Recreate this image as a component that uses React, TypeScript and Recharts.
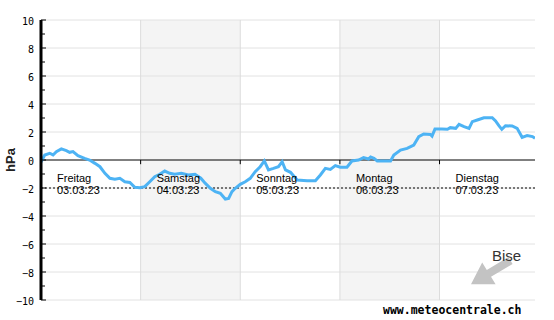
import React from "react";
import {
  LineChart,
  Line,
  XAxis,
  YAxis,
  ReferenceLine,
  ReferenceArea,
  ReferenceDot,
} from "recharts";

// hours since Friday 00:00
const HOURS = [
  0, 0.9, 2.1, 2.9, 3.7, 4.9, 6.1, 6.9, 7.7, 8.9, 10.5, 11.7, 13.0, 14.2, 15.4,
  16.6, 17.8, 19.0, 20.2, 21.4, 22.6, 23.8, 25.0, 26.2, 27.4, 28.6, 29.8, 31.0,
  32.2, 33.8, 35.5, 37.1, 38.5, 39.6, 40.8, 42.0, 43.2, 44.4, 45.2, 46.0, 46.8,
  48.0, 49.2, 50.4, 51.6, 52.8, 53.8, 54.8, 56.0, 57.2, 58.1, 58.9, 60.1, 61.7,
  64.1, 66.1, 67.3, 68.5, 69.7, 70.9, 72.1, 73.7, 74.9, 76.5, 77.7, 78.9, 79.4,
  80.2, 81.0, 82.6, 84.2, 85.0, 86.6, 88.2, 89.8, 91.0, 92.2, 93.8, 94.2, 94.9,
  96.6, 97.9, 98.6, 99.9, 100.7, 101.9, 103.1, 103.9, 105.1, 106.7, 108.7,
  109.5, 110.3, 111.0, 111.9, 113.5, 114.7, 115.9, 117.1, 118.4, 119.0,
];
// pressure difference in hPa
const PRESSURE = [
  -0.15, 0.36, 0.48, 0.36, 0.6, 0.79, 0.67, 0.55, 0.6, 0.31, 0.12, 0.0, -0.24,
  -0.48, -0.95, -1.31, -1.38, -1.31, -1.55, -1.6, -1.95, -1.98, -1.9, -1.55,
  -1.19, -1.02, -0.79, -0.95, -1.02, -0.95, -1.07, -1.02, -1.3, -1.67, -2.02,
  -2.26, -2.38, -2.79, -2.74, -2.26, -2.02, -1.74, -1.55, -1.31, -0.83, -0.48,
  -0.07, -0.71, -0.6, -0.48, -0.12, -0.71, -0.88, -1.43, -1.48, -1.48, -1.07,
  -0.6, -0.67, -0.4, -0.52, -0.52, -0.07, 0.0, 0.17, 0.07, 0.22, 0.12, -0.07,
  -0.07, -0.07, 0.36, 0.71, 0.83, 1.07, 1.67, 1.86, 1.83, 1.71, 2.21, 2.21,
  2.19, 2.31, 2.26, 2.55, 2.38, 2.26, 2.74, 2.86, 3.02, 3.02, 2.79, 2.45, 2.19,
  2.45, 2.43, 2.26, 1.62, 1.74, 1.67, 1.55,
];

const DAY_STARTS = [0, 24, 48, 72, 96];
const DAY_NAMES = ["Freitag", "Samstag", "Sonntag", "Montag", "Dienstag"];
const DAY_DATES = ["03.03.23", "04.03.23", "05.03.23", "06.03.23", "07.03.23"];
const SHADED_DAYS = [1, 3];
const DAY_BOUNDARIES = [24, 48, 72, 96];

const Y_TICKS = [-10, -9, -8, -7, -6, -5, -4, -3, -2, -1, 0, 1, 2, 3, 4, 5, 6, 7, 8, 9, 10];
const GRID_VALUES = [-10, -8, -6, -4, -2, 2, 4, 6, 8, 10];
const REFERENCE_LEVEL = -2;
const X_DOMAIN: [number, number] = [0, 119];
const Y_DOMAIN: [number, number] = [-10, 10];

const data = HOURS.map((h, i) => ({ h, p: PRESSURE[i] }));

const TICK_SIZE = 6;
const TICK_MARGIN = 2;

const YTick = (props: any) => {
  const { x, y, payload } = props;
  const v = payload.value as number;
  const axisX = x + TICK_SIZE + TICK_MARGIN;
  const major = v % 2 === 0;
  return (
    <g>
      <line
        x1={axisX}
        x2={axisX + (major ? 5 : 4)}
        y1={y}
        y2={y}
        stroke="#000"
        strokeWidth={1}
      />
      {major && (
        <text
          x={x + 1}
          y={y + 4.5}
          textAnchor="end"
          fontFamily="'DejaVu Sans Mono', monospace"
          fontSize={10}
          fill="#000"
        >
          {String(v).replace("-", "\u2212")}
        </text>
      )}
    </g>
  );
};

const dayLabelShape = (i: number) => (props: any) => {
  const { cx, cy } = props;
  return (
    <g>
      <text
        x={cx + 16}
        y={cy + 21.5}
        fontFamily="'Liberation Sans', Arial, sans-serif"
        fontSize={11}
        fill="#000"
      >
        {DAY_NAMES[i]}
      </text>
      <text
        x={cx + 16}
        y={cy + 34}
        fontFamily="'Liberation Sans', Arial, sans-serif"
        fontSize={11}
        fill="#000"
      >
        {DAY_DATES[i]}
      </text>
    </g>
  );
};

export default function App() {
  return (
    <div
      style={{
        position: "absolute",
        left: 0,
        top: 0,
        width: 554,
        height: 320,
        background: "#fff",
      }}
    >
      <LineChart
        width={554}
        height={320}
        data={data}
        margin={{ top: 20, right: 19, bottom: 20, left: 0 }}
      >
        <XAxis
          type="number"
          dataKey="h"
          domain={X_DOMAIN}
          allowDataOverflow
          hide
        />
        <YAxis
          type="number"
          domain={Y_DOMAIN}
          ticks={Y_TICKS}
          interval={0}
          width={41}
          tickSize={TICK_SIZE}
          tickMargin={TICK_MARGIN}
          tickLine={false}
          axisLine={{ stroke: "#000", strokeWidth: 3 }}
          tick={YTick}
          label={{
            value: "hPa",
            angle: -90,
            position: "insideLeft",
            offset: 0,
            style: {
              fontFamily: "'Liberation Sans', Arial, sans-serif",
              fontSize: 13,
              fontWeight: "bold",
              fill: "#222",
              textAnchor: "middle",
            },
            dx: 10,
          }}
        />
        {SHADED_DAYS.map((d) => (
          <ReferenceArea
            key={"a" + d}
            x1={DAY_STARTS[d]}
            x2={DAY_STARTS[d] + 24}
            y1={Y_DOMAIN[0]}
            y2={Y_DOMAIN[1]}
            fill="#f4f4f4"
            fillOpacity={1}
            stroke="none"
          />
        ))}
        {GRID_VALUES.map((v) => (
          <ReferenceLine key={"g" + v} y={v} stroke="#e2e2e2" strokeWidth={1} />
        ))}
        {DAY_BOUNDARIES.map((d) => (
          <ReferenceLine key={"v" + d} x={d} stroke="#dcdcdc" strokeWidth={1} />
        ))}
        <ReferenceLine y={0} stroke="#000" strokeWidth={1} />
        <ReferenceLine
          y={REFERENCE_LEVEL}
          stroke="#000"
          strokeWidth={1}
          strokeDasharray="2 2"
        />
        {DAY_BOUNDARIES.map((d) => (
          <ReferenceLine
            key={"t" + d}
            segment={[
              { x: d, y: 0 },
              { x: d, y: -0.3 },
            ]}
            stroke="#000"
            strokeWidth={1}
          />
        ))}
        {DAY_STARTS.map((d, i) => (
          <ReferenceDot
            key={"d" + d}
            x={d}
            y={0}
            r={0}
            shape={dayLabelShape(i)}
          />
        ))}
        <Line
          type="linear"
          dataKey="p"
          stroke="#4db3f4"
          strokeWidth={3}
          dot={false}
          isAnimationActive={false}
        />
      </LineChart>
      <svg
        width={554}
        height={320}
        style={{ position: "absolute", left: 0, top: 0, pointerEvents: "none" }}
      >
        <polygon
          points="512.6,263.9 491,276.8 495.6,284.3 471,284.3 482.2,262.5 486.8,270 508.4,257.1"
          fill="#c3c3c3"
        />
        <text
          x={492}
          y={261}
          fontFamily="'Liberation Sans', Arial, sans-serif"
          fontSize={15}
          fill="#333"
        >
          Bise
        </text>
        <text
          x={383}
          y={313.5}
          fontFamily="'DejaVu Sans Mono', monospace"
          fontWeight="bold"
          fontSize={11.5}
          fill="#000"
        >
          www.meteocentrale.ch
        </text>
      </svg>
    </div>
  );
}
